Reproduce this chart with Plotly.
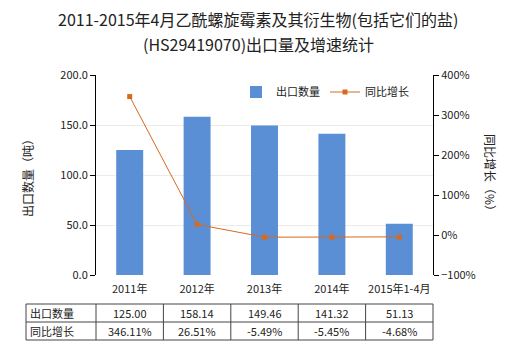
import plotly.graph_objects as go

categories = ["2011年", "2012年", "2013年", "2014年", "2015年1-4月"]
export_qty = [125.00, 158.14, 149.46, 141.32, 51.13]
growth_pct = [346.11, 26.51, -5.49, -5.45, -4.68]
qty_labels = ["125.00", "158.14", "149.46", "141.32", "51.13"]
growth_labels = ["346.11%", "26.51%", "-5.49%", "-5.45%", "-4.68%"]
row_names = ["出口数量", "同比增长"]
title_lines = ["2011-2015年4月乙酰螺旋霉素及其衍生物(包括它们的盐)",
               "(HS29419070)出口量及增速统计"]

FONT = "Noto Sans CJK SC"
xs = list(range(len(categories)))

L, R, T, B = 96, 87, 75, 75
PW, PH = 520 - L - R, 350 - T - B


def px(p):
    return (p - L) / PW


def py(p):
    return (350 - B - p) / PH


fig = go.Figure()
fig.add_trace(go.Bar(
    x=xs, y=export_qty, name="出口数量",
    marker=dict(color="#5a8fd6", line=dict(width=0)),
    width=0.4, yaxis="y"))
fig.add_trace(go.Scatter(
    x=xs, y=growth_pct, name="同比增长", mode="lines+markers",
    line=dict(color="#d8691e", width=1),
    marker=dict(symbol="square", size=5, color="#d8691e"),
    yaxis="y2"))

fig.update_layout(
    width=520, height=350,
    margin=dict(l=L, r=R, t=T, b=B),
    paper_bgcolor="white", plot_bgcolor="white",
    font=dict(family=FONT, size=11, color="#222"),
    showlegend=True,
    legend=dict(orientation="h", x=px(236), y=py(92), xanchor="left", yanchor="middle",
                bgcolor="rgba(0,0,0,0)", font=dict(size=11)),
    xaxis=dict(tickmode="array", tickvals=xs, ticktext=categories,
               range=[-0.5, 4.5], showgrid=False, showline=False,
               ticks="", ticklabelstandoff=6, tickfont=dict(size=11)),
    yaxis=dict(range=[0, 200], dtick=50, tickformat=".1f",
               showgrid=True, gridcolor="#ecece4", gridwidth=1,
               showline=True, linecolor="#000", linewidth=1,
               ticks="outside", ticklen=5, tickcolor="#000",
               zeroline=False, tickfont=dict(size=11)),
    yaxis2=dict(range=[-100, 400], dtick=100, ticksuffix="%",
                overlaying="y", side="right", showgrid=False,
                showline=True, linecolor="#000", linewidth=1,
                ticks="outside", ticklen=5, tickcolor="#000",
                zeroline=False, tickfont=dict(size=11)),
)

# title (two lines)
for t, yc in zip(title_lines, (19, 44)):
    fig.add_annotation(text=t, xref="paper", yref="paper", x=px(258), y=py(yc),
                       xanchor="center", yanchor="middle", showarrow=False,
                       borderpad=0, font=dict(size=16, color="#222"))

# axis titles
fig.add_annotation(text="出口数量（吨）", xref="paper", yref="paper",
                   x=px(27), y=py(175), xanchor="center", yanchor="middle",
                   textangle=-90, showarrow=False,
                   font=dict(size=12, color="#222"))
fig.add_annotation(text="同比增长（%）", xref="paper", yref="paper",
                   x=px(491), y=py(175), xanchor="center", yanchor="middle",
                   textangle=90, showarrow=False,
                   font=dict(size=12, color="#222"))

# data table under the chart
y_top, y_mid, y_bot = py(304), py(322), py(340)
x_left = px(26)
col_edges = [x_left] + [px(L + PW * i / len(categories)) for i in range(len(categories) + 1)]
line = dict(color="#444", width=1)
for yy in (y_top, y_mid, y_bot):
    fig.add_shape(type="line", xref="paper", yref="paper", x0=x_left, x1=1,
                  y0=yy, y1=yy, line=line)
for xx in col_edges:
    fig.add_shape(type="line", xref="paper", yref="paper", x0=xx, x1=xx,
                  y0=y_top, y1=y_bot, line=line)

rows = [qty_labels, growth_labels]
row_y = [(y_top + y_mid) / 2, (y_mid + y_bot) / 2]
for r, (name, vals) in enumerate(zip(row_names, rows)):
    fig.add_annotation(text=name, xref="paper", yref="paper", x=px(28),
                       y=row_y[r], xanchor="left", yanchor="middle", showarrow=False,
                       font=dict(size=11, color="#222"))
    for i, v in enumerate(vals):
        fig.add_annotation(text=v, xref="x", yref="paper", x=i, y=row_y[r],
                           xanchor="center", yanchor="middle",
                           showarrow=False, font=dict(size=11, color="#222"))

fig.write_html("out.html")
